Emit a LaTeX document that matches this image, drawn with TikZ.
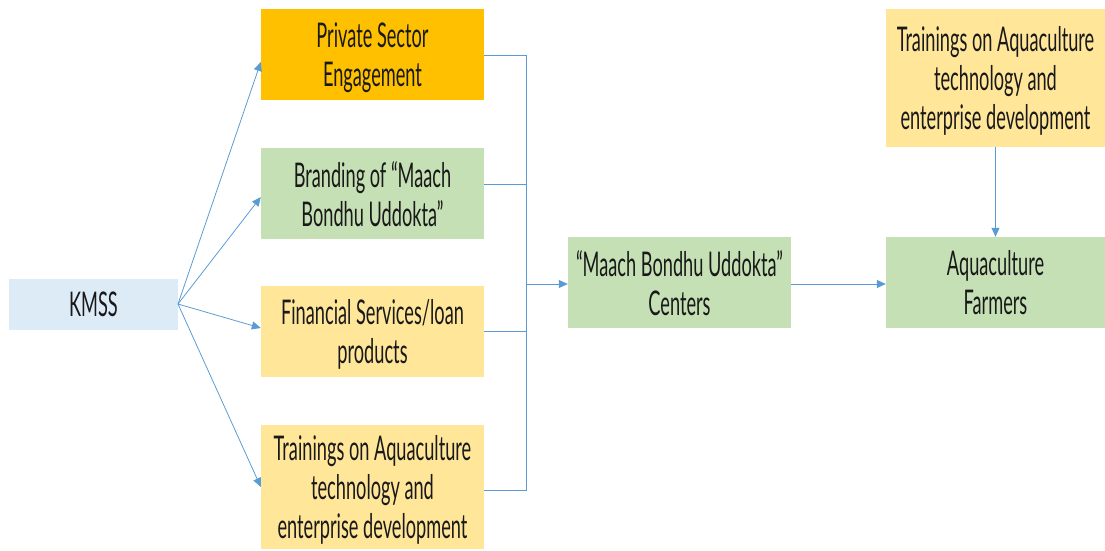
\documentclass[tikz,border=0pt]{standalone}
\usepackage{fontspec}
\setmainfont{Lato}[FakeStretch=0.535]
\usetikzlibrary{arrows.meta}
\definecolor{kblue}{HTML}{DDEBF7}
\definecolor{kgold}{HTML}{FFC000}
\definecolor{kgreen}{HTML}{C5E0B4}
\definecolor{kyellow}{HTML}{FFE699}
\definecolor{kline}{HTML}{5B9BD5}
\tikzset{
  box/.style={rectangle, draw=none, align=center, inner sep=0pt, text depth=0pt,
    font=\fontsize{34}{39}\selectfont, text=black!90},
  link/.style={draw=kline, line width=0.8pt},
  arr/.style={link, -{Triangle[length=9pt,width=8pt]}}
}
\begin{document}
\begin{tikzpicture}[x=1pt,y=-1pt]
\useasboundingbox (0,0) rectangle (1105,550);
% source organisation
\node[box, fill=kblue, minimum width=169pt, minimum height=51pt] (kmss) at (93.5,304.5) {KMSS};
% four service lines
\node[box, fill=kgold, minimum width=223pt, minimum height=91pt] (pse) at (372.5,54.5) {Private Sector\\Engagement};
\node[box, fill=kgreen, minimum width=223pt, minimum height=91pt] (brand) at (372.5,193.5) {Branding of ``Maach\\Bondhu Uddokta''};
\node[box, fill=kyellow, minimum width=223pt, minimum height=91pt] (fin) at (372.5,331.5) {Financial Services/loan\\products};
\node[box, fill=kyellow, minimum width=223pt, minimum height=124pt] (train) at (372.5,487) {Trainings on Aquaculture\\technology and\\enterprise development};
% centres and farmers
\node[box, fill=kgreen, minimum width=223pt, minimum height=91pt] (centers) at (679.5,282.5) {``Maach Bondhu Uddokta''\\Centers};
\node[box, fill=kgreen, minimum width=219pt, minimum height=91pt] (farmers) at (995.5,282.5) {Aquaculture\\Farmers};
\node[box, fill=kyellow, minimum width=219pt, minimum height=138pt] (train2) at (995.5,78) {Trainings on Aquaculture\\technology and\\enterprise development};
% fan-out from KMSS
\coordinate (src) at (178,304);
\draw[arr] (src) -- (pse.west |- 0,62);
\draw[arr] (src) -- (brand.west |- 0,197);
\draw[arr] (src) -- (fin.west |- 0,328);
\draw[arr] (src) -- (train.west |- 0,487);
% collector bus
\coordinate (bus) at (526,284);
\draw[link] (pse.east |- 0,55) -| (bus);
\draw[link] (brand.east |- 0,184) -| (bus);
\draw[link] (fin.east |- 0,331) -| (bus);
\draw[link] (train.east |- 0,490) -| (bus);
\draw[arr] (bus) -- (centers.west |- bus);
\draw[arr] (centers.east |- bus) -- (farmers.west |- bus);
\draw[arr] (train2.south) -- (farmers.north);
\end{tikzpicture}
\end{document}
